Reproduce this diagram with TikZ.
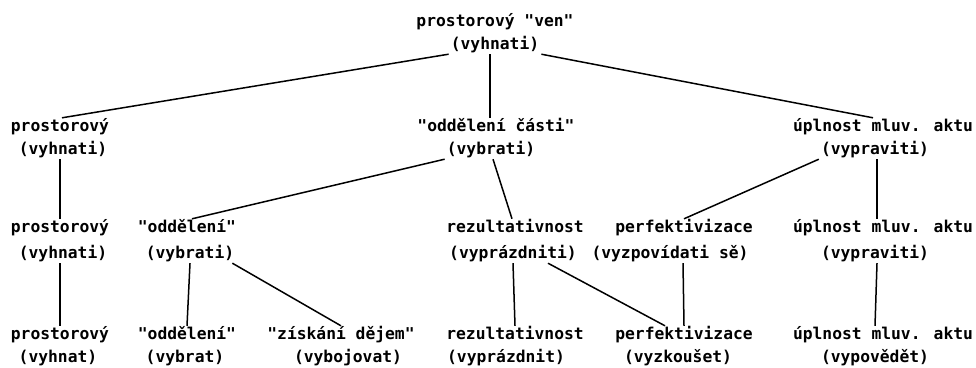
\documentclass[tikz,border=0pt]{standalone}
\usepackage{fontspec}
\newfontfamily\dmono{DejaVu Sans Mono}
\usetikzlibrary{calc}
\tikzset{
  lbl/.style={font=\dmono\bfseries\fontsize{16.3}{20}\selectfont, inner sep=2pt, text height=11pt, text depth=3pt},
  link/.style={line width=1.5pt, black}
}
\begin{document}
\begin{tikzpicture}[x=1pt,y=-1pt]
\useasboundingbox (0,0) rectangle (976,367);
% row 1
\node[lbl] (T1) at (495,22) {prostorový "ven"};
\node[lbl] (T2) at (495,45) {(vyhnati)};
% row 2
\node[lbl] (A1) at (60,127) {prostorový};
\node[lbl] (A2) at (63,150) {(vyhnati)};
\node[lbl] (B1) at (496,127) {"oddělení části"};
\node[lbl] (B2) at (491,150) {(vybrati)};
\node[lbl] (C1) at (883,127) {úplnost mluv. aktu};
\node[lbl] (C2) at (875,150) {(vypraviti)};
% row 3
\node[lbl] (A31) at (60,228) {prostorový};
\node[lbl] (A32) at (63,254) {(vyhnati)};
\node[lbl] (O31) at (187,228) {"oddělení"};
\node[lbl] (O32) at (190,254) {(vybrati)};
\node[lbl] (R31) at (515,228) {rezultativnost};
\node[lbl] (R32) at (513,254) {(vyprázdniti)};
\node[lbl] (P31) at (684,228) {perfektivizace};
\node[lbl] (P32) at (670,254) {(vyzpovídati sě)};
\node[lbl] (U31) at (883,228) {úplnost mluv. aktu};
\node[lbl] (U32) at (875,254) {(vypraviti)};
% row 4
\node[lbl] (A41) at (60,335) {prostorový};
\node[lbl] (A42) at (58,358) {(vyhnat)};
\node[lbl] (O41) at (187,335) {"oddělení"};
\node[lbl] (O42) at (185,358) {(vybrat)};
\node[lbl] (Z41) at (341,335) {"získání dějem"};
\node[lbl] (Z42) at (348,358) {(vybojovat)};
\node[lbl] (R41) at (515,335) {rezultativnost};
\node[lbl] (R42) at (506,358) {(vyprázdnit)};
\node[lbl] (P41) at (684,335) {perfektivizace};
\node[lbl] (P42) at (678,358) {(vyzkoušet)};
\node[lbl] (U41) at (883,335) {úplnost mluv. aktu};
\node[lbl] (U42) at (875,358) {(vypovědět)};
% connectors
\draw[link] (T2.south west) -- ($(A1.north)+(2,0)$);
\draw[link] ($(T2.south)+(-5,0)$) -- ($(B1.north)+(-6,0)$);
\draw[link] (T2.south east) -- ($(C1.north)+(-10,0)$);
\draw[link] ($(A2.south)+(-3,0)$) -- (A31.north);
\draw[link] (B2.south west) -- ($(O31.north)+(5,0)$);
\draw[link] ($(B2.south)+(2,0)$) -- ($(R31.north)+(-3,0)$);
\draw[link] (C2.south west) -- (P31.north);
\draw[link] ($(C2.south)+(2,0)$) -- ($(U31.north)+(-6,0)$);
\draw[link] ($(A32.south)+(-3,0)$) -- (A41.north);
\draw[link] (O32.south) -- (O41.north);
\draw[link] ($(O32.south east)+(-4,0)$) -- (Z41.north);
\draw[link] (R32.south) -- (R41.north);
\draw[link] ($(R32.south)+(35,0)$) -- ($(P41.north)+(-19,0)$);
\draw[link] ($(P32.south)+(13,0)$) -- (P41.north);
\draw[link] ($(U32.south)+(2,0)$) -- ($(U41.north)+(-8,0)$);
\end{tikzpicture}
\end{document}
